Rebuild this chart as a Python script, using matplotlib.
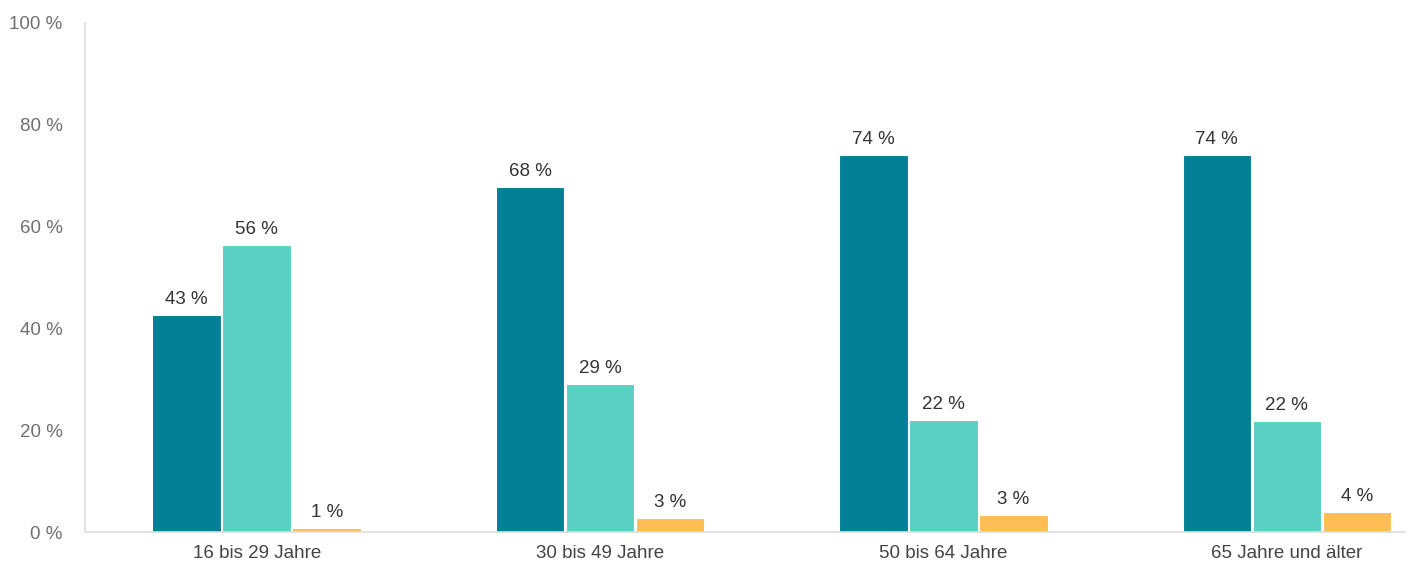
import matplotlib
matplotlib.use("Agg")
import matplotlib.pyplot as plt
import numpy as np

plt.rcParams['font.family'] = ['Liberation Sans', 'DejaVu Sans']

categories = ["16 bis 29 Jahre", "30 bis 49 Jahre", "50 bis 64 Jahre", "65 Jahre und älter"]
series_dark = [42.6, 67.8, 74.1, 74.0]
series_light = [56.4, 29.1, 22.0, 21.8]
series_orange = [0.8, 2.7, 3.3, 3.9]
y_ticks = [0, 20, 40, 60, 80, 100]

colors = ["#038096", "#5ad0c2", "#ffbe55"]

fig = plt.figure(figsize=(14.09, 5.65), dpi=100)
ax = fig.add_axes([0.0603, 0.0584, 0.9369, 0.9009])

x = np.arange(len(categories))
width = 0.2
offsets = [-0.204, 0.0, 0.204]
for vals, off, col in zip([series_dark, series_light, series_orange], offsets, colors):
    bars = ax.bar(x + off, vals, width, color=col, edgecolor="white", linewidth=0.8, zorder=2)
    for b, v in zip(bars, vals):
        ax.annotate(f"{v:.0f} %", (b.get_x() + b.get_width() / 2, v),
                    xytext=(0, 5), textcoords="offset points",
                    ha="center", va="bottom", fontsize=13.5, color="#333333")

ax.set_xlim(-0.5, 3.344)
ax.set_ylim(0, 100)
ax.set_yticks(y_ticks)
ax.set_yticklabels([f"{t} %" for t in y_ticks])
ax.set_xticks(x)
ax.set_xticklabels(categories)

ax.tick_params(axis="y", length=0, pad=16, labelsize=13.5, labelcolor="#707070")
ax.tick_params(axis="x", length=0, pad=9, labelsize=13.5, labelcolor="#444444")

for side in ["top", "right"]:
    ax.spines[side].set_visible(False)
ax.spines["left"].set_color("#dddddd")
ax.spines["bottom"].set_color("#dddddd")
ax.spines["left"].set_linewidth(1.2)
ax.spines["bottom"].set_linewidth(1.2)

fig.savefig("out.png", dpi=100, facecolor="white")
